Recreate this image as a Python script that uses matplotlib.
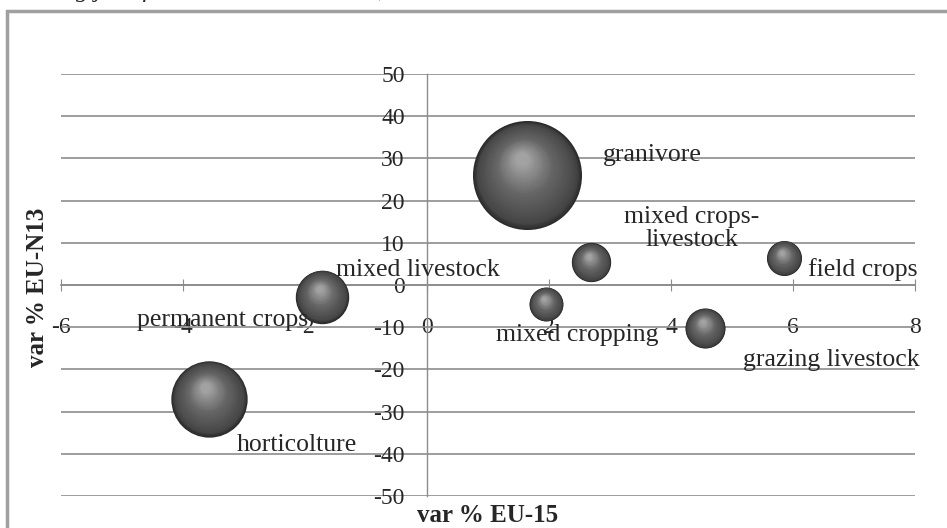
import numpy as np
import matplotlib.pyplot as plt
from matplotlib.colors import to_rgb
from matplotlib.patches import Rectangle
from matplotlib.transforms import ScaledTranslation

plt.rcParams['font.family'] = ['Liberation Serif', 'DejaVu Serif']

# farm types, employment variation (%) in EU-15 and EU-N13, bubble size
farm_types = ['granivore', 'mixed crops-\nlivestock', 'field crops', 'mixed livestock',
              'permanent crops', 'mixed cropping', 'grazing livestock', 'horticolture']
var_eu15 = [1.64, 2.69, 5.85, -1.72, -1.9, 1.95, 4.56, -3.57]
var_eun13 = [26.0, 5.4, 6.4, -2.8, -8.3, -4.5, -10.2, -27.0]
bubble_size = [100, 13.0, 10.3, 24.0, 0, 9.7, 13.5, 49.0]

x_ticks = [-6, -4, -2, 0, 2, 4, 6, 8]
y_ticks = [-50, -40, -30, -20, -10, 0, 10, 20, 30, 40, 50]

# where each data label sits (data coords) and how it is aligned
label_pos = [(2.88, 30.8, 'left'), (4.34, 13.3, 'center'), (6.25, 3.6, 'left'),
             (-1.49, 3.6, 'left'), (-4.75, -8.3, 'left'), (2.46, -11.8, 'center'),
             (6.62, -17.8, 'center'), (-2.13, -37.9, 'center')]

SIZE_SCALE = 61.6  # points^2 per bubble-size unit

# shading ramp from the rim (0) to the highlight (1)
SHADE_STOPS = [0.0, 0.10, 0.55, 1.0]
SHADE_GREYS = ['#2a2a2a', '#464646', '#666666', '#a2a2a2']


def draw_sphere(ax, x, y, size, steps=48):
    radius = np.sqrt(size * SIZE_SCALE) / 2
    greys = np.array([to_rgb(c) for c in SHADE_GREYS])
    for k in range(steps):
        t = k / (steps - 1)
        r_k = radius * (1 - 0.88 * t)
        shift = ScaledTranslation(-0.10 * radius * t / 72, 0.30 * radius * t / 72,
                                  ax.figure.dpi_scale_trans)
        color = [np.interp(t, SHADE_STOPS, greys[:, i]) for i in range(3)]
        ax.scatter([x], [y], s=(2 * r_k) ** 2, color=color, linewidths=0,
                   transform=ax.transData + shift, zorder=3 + t)


fig = plt.figure(figsize=(9.47, 5.28), dpi=100)
ax = fig.add_axes([61 / 947, 1 - 496 / 528, 854 / 947, 422 / 528])

ax.set_xlim(-6, 8)
ax.set_ylim(-50, 50)
ax.set_xticks(x_ticks)
ax.set_yticks(y_ticks)
ax.set_xticklabels([str(v) for v in x_ticks])
ax.set_yticklabels([str(v) for v in y_ticks])

for side in ['top', 'right']:
    ax.spines[side].set_visible(False)
ax.spines['left'].set_position(('data', 0))
ax.spines['bottom'].set_position(('data', 0))
ax.spines['left'].set_color('#8c8c8c')
ax.spines['bottom'].set_color('#8c8c8c')
ax.spines['left'].set_linewidth(1.0)
ax.spines['bottom'].set_linewidth(1.2)

ax.yaxis.grid(True, color='#8c8c8c', linewidth=1.2)
ax.set_axisbelow(True)
ax.tick_params(axis='x', direction='inout', length=8, color='#8c8c8c', pad=19,
               labelsize=17, labelcolor='#262626')
ax.tick_params(axis='y', length=0, pad=16, labelsize=17, labelcolor='#262626')

for x, y, s in zip(var_eu15, var_eun13, bubble_size):
    if s > 0:
        draw_sphere(ax, x, y, s)

for name, (lx, ly, ha) in zip(farm_types, label_pos):
    ax.text(lx, ly, name, ha=ha, va='center', fontsize=18.5, color='#262626',
            linespacing=1.05, zorder=10)

fig.text(488 / 947, 1 - 515 / 528, 'var % EU-15', ha='center', va='center',
         fontsize=18, fontweight='bold', color='#262626')
fig.text(38 / 947, 1 - 287 / 528, 'var % EU-N13', ha='center', va='center',
         rotation=90, fontsize=18, fontweight='bold', color='#262626')

# chart frame and the caption line cut off above it
fig.patches.append(Rectangle((7 / 947, -0.1), 1.2, 1.1 - 11 / 528,
                             transform=fig.transFigure, fill=False,
                             edgecolor='#a0a0a0', linewidth=2.5))
fig.text(-0.021, 1 + 3 / 528, 'generating jobs for EU-N13 and EU-15, variation 2007-2010',
         ha='left', va='baseline', fontsize=18, style='italic', color='#262626')

fig.savefig('out.png', dpi=100)
